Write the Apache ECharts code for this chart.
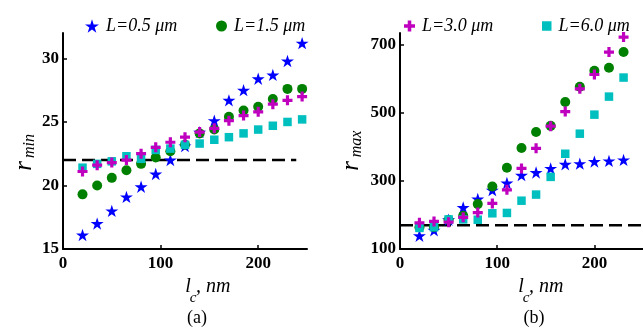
<!DOCTYPE html>
<html>
<head>
<meta charset="utf-8">
<script src="https://cdn.jsdelivr.net/npm/echarts@6/dist/echarts.min.js"></script>
<style>
html,body{margin:0;padding:0;background:#fff;}
#chart{width:643px;height:328px;}
</style>
</head>
<body>
<div id="chart"></div>
<script>
// ---- data ----
var lc = [20,35,50,65,80,95,110,125,140,155,170,185,200,215,230,245];
var seriesNames = ['L=0.5 μm','L=1.5 μm','L=3.0 μm','L=6.0 μm'];

var rminL05 = [16.1,17.0,18.0,19.1,19.9,20.9,22.0,23.1,24.2,25.1,26.7,27.5,28.4,28.7,29.8,31.2];
var rminL15 = [19.3,20.0,20.6,21.2,21.7,22.2,22.7,23.2,24.1,24.4,25.4,25.9,26.2,26.8,27.6,27.6];
var rminL30 = [21.1,21.6,21.8,22.0,22.5,23.0,23.4,23.8,24.2,24.5,25.1,25.5,25.8,26.4,26.7,27.0];
var rminL60 = [21.4,21.7,21.9,22.3,22.1,22.8,22.9,23.2,23.3,23.6,23.8,24.1,24.4,24.7,25.0,25.2];

var rmaxL05 = [139,155,186,222,247,273,294,317,325,337,349,351,357,359,362,null];
var rmaxL15 = [164,165,185,198,232,284,339,397,444,462,532,577,624,633,679,null];
var rmaxL30 = [177,181,179,193,207,234,274,337,396,461,504,571,613,679,723,null];
var rmaxL60 = [162,164,187,187,186,205,206,242,260,312,380,439,495,548,604,null];

var rminRef = 22;
var rmaxRef = 170;
var refLineLeftX = [0, 239];
var refLineRightX = [0, 250];

// ---- styles ----
var colors = ['#0000ff','#008000','#bf00bf','#00bfbf'];
var starPath = 'path://M50,0 L61.2,34.5 L97.6,34.5 L68.2,55.9 L79.4,90.5 L50,69.1 L20.6,90.5 L31.8,55.9 L2.4,34.5 L38.8,34.5 Z';
var plusPath = 'path://M34,0 H66 V34 H100 V66 H66 V100 H34 V66 H0 V34 H34 Z';
var symbols = [starPath,'circle',plusPath,'rect'];
var sizes = [13,10,10,8.5];
var serif = '"Liberation Serif","Times New Roman",serif';

function pairs(xs, ys){ var out=[]; for(var i=0;i<xs.length;i++){ if(ys[i]!=null) out.push([xs[i],ys[i]]);} return out; }

var chart = echarts.init(document.getElementById('chart'), null, {renderer:'canvas'});

function xAxisCfg(gi){
  return {
    gridIndex: gi, type:'value', min:0, max:250, interval:100,
    axisLine:{show:true, onZero:false, lineStyle:{color:'#000', width:2}},
    axisTick:{show:true, inside:true, length:4, lineStyle:{color:'#000', width:1.5}},
    axisLabel:{color:'#000', fontFamily:serif, fontWeight:'bold', fontSize:17, margin:6, showMaxLabel:false},
    splitLine:{show:false}
  };
}
function yAxisCfg(gi, min, max, interval){
  return {
    gridIndex: gi, type:'value', min:min, max:max, interval:interval,
    axisLine:{show:true, onZero:false, lineStyle:{color:'#000', width:2}},
    axisTick:{show:true, inside:true, length:4, lineStyle:{color:'#000', width:1.5}},
    axisLabel:{color:'#000', fontFamily:serif, fontWeight:'bold', fontSize:17, margin:4, showMaxLabel:false},
    splitLine:{show:false}
  };
}

var leftData = [rminL05, rminL15, rminL30, rminL60];
var rightData = [rmaxL05, rmaxL15, rmaxL30, rmaxL60];
var drawOrder = [0,1,3,2]; // plus drawn on top
var series = [];
[[leftData,0],[rightData,1]].forEach(function(p){
  drawOrder.forEach(function(k){
    series.push({
      type:'scatter', name: seriesNames[k], xAxisIndex:p[1], yAxisIndex:p[1],
      data: pairs(lc, p[0][k]), symbol: symbols[k], symbolSize: sizes[k], symbolKeepAspect:true,
      itemStyle:{color:colors[k], opacity:1}, clip:false, z: 3
    });
  });
});
series.push({
  type:'line', xAxisIndex:0, yAxisIndex:0, data:[[refLineLeftX[0],rminRef],[refLineLeftX[1],rminRef]],
  symbol:'none', lineStyle:{color:'#000', width:2.6, type:[13,6]}, z:2, silent:true
});
series.push({
  type:'line', xAxisIndex:1, yAxisIndex:1, data:[[refLineRightX[0],rmaxRef],[refLineRightX[1],rmaxRef]],
  symbol:'none', lineStyle:{color:'#000', width:2.6, type:[13,6]}, z:2, silent:true
});

function legendCfg(k, left){
  return {
    data:[{name:seriesNames[k], icon:symbols[k]}], left:left, top:12, itemWidth:sizes[k]+1, itemHeight:sizes[k]+1,
    itemGap:0, selectedMode:false,
    textStyle:{color:'#000', fontFamily:serif, fontStyle:'italic', fontSize:18, padding:[0,0,0,2]}
  };
}

function txt(x, y, text, font, rot){
  return {type:'text', x:x, y:y, rotation: rot||0,
    style:{text:text, font:font, fill:'#000', textAlign:'center', textVerticalAlign:'middle', align:'center', verticalAlign:'middle'}};
}

var option = {
  animation:false,
  backgroundColor:'#fff',
  legend:[legendCfg(0,80), legendCfg(1,211), legendCfg(2,399), legendCfg(3,537)],
  grid:[
    {left:63, top:33, width:244, height:216},
    {left:400, top:33, width:253, height:216}
  ],
  xAxis:[xAxisCfg(0), xAxisCfg(1)],
  yAxis:[yAxisCfg(0,15,32,5), yAxisCfg(1,100,735,200)],
  series: series,
  graphic:[
    txt(24,166,'r','italic 25px '+serif, Math.PI/2),
    txt(30,146,'min','italic 16px '+serif, Math.PI/2),
    txt(351,166,'r','italic 25px '+serif, Math.PI/2),
    txt(357,144,'max','italic 16px '+serif, Math.PI/2),
    txt(188,287,'l','italic 20px '+serif),
    txt(193,298,'c','italic 15px '+serif),
    {type:'text', x:196, y:287, style:{text:', nm', font:'italic 20px '+serif, fill:'#000', textAlign:'left', textVerticalAlign:'middle', align:'left', verticalAlign:'middle'}},
    txt(197,318,'(a)','18px '+serif),
    txt(521,287,'l','italic 20px '+serif),
    txt(526,298,'c','italic 15px '+serif),
    {type:'text', x:529, y:287, style:{text:', nm', font:'italic 20px '+serif, fill:'#000', textAlign:'left', textVerticalAlign:'middle', align:'left', verticalAlign:'middle'}},
    txt(534,318,'(b)','18px '+serif)
  ]
};
chart.setOption(option);
</script>
</body>
</html>
